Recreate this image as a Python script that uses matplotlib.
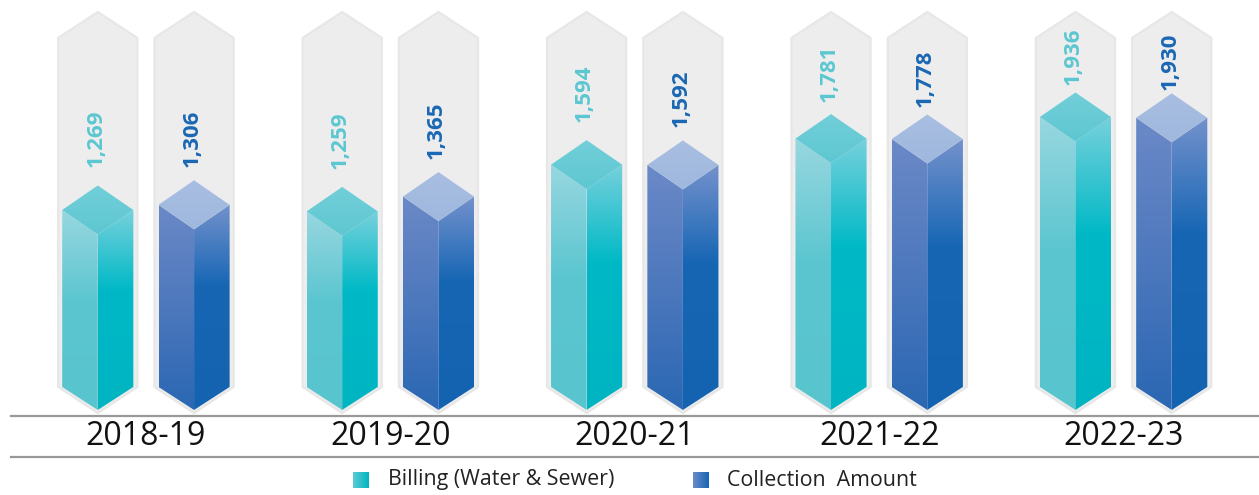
"""
Billing vs collection, drawn as 3D crystal bars
"""

import numpy as np
import matplotlib
matplotlib.use('Agg')
import matplotlib.pyplot as plt
from matplotlib.patches import Polygon
from matplotlib.colors import LinearSegmentedColormap

plt.rcParams['font.family'] = ['Open Sans', 'DejaVu Sans']

# data
years = ['2018-19', '2019-20', '2020-21', '2021-22', '2022-23']
billing = [1269, 1259, 1594, 1781, 1936]
collection = [1306, 1365, 1592, 1778, 1930]

# series styles: (top face, left face stops, right face stops, label colour)
STYLES = {
    'billing': {
        'top': [(0, '#72cfd9'), (1, '#5ec7d1')],
        'left': [(0, '#98d7e0'), (0.45, '#5cc6d0'), (1, '#57c4ce')],
        'right': [(0, '#76d1dc'), (0.4, '#00b9c6'), (1, '#00b4c2')],
        'label': '#5cc7d1',
        'legend': [(0, '#5ccbd4'), (1, '#00b5c2')],
    },
    'collection': {
        'top': [(0, '#a8bee2'), (1, '#a0b8de')],
        'left': [(0, '#6b89c7'), (0.5, '#4d78bd'), (1, '#2a67b3')],
        'right': [(0, '#7491cc'), (0.4, '#1666b4'), (1, '#1463b1')],
        'label': '#1a67b4',
        'legend': [(0, '#6c8ac8'), (1, '#1565b4')],
    },
}

PX = 0.1394           # pixels per value unit
HALF_W = 0.1455       # bar half width (group units)
OFFSET = 0.197        # bar offset from group centre
CAP_W = 0.162         # background capsule half width
D = 24.5 / PX         # half height of the top rhombus
TIP = 23 / PX         # depth of the bottom point


def grad_poly(ax, verts, stops, z):
    poly = Polygon(verts, closed=True, facecolor='none', edgecolor='none')
    ax.add_patch(poly)
    xs = [p[0] for p in verts]
    ys = [p[1] for p in verts]
    cmap = LinearSegmentedColormap.from_list('g', stops)
    arr = np.linspace(0, 1, 256).reshape(-1, 1)
    im = ax.imshow(arr, cmap=cmap, extent=(min(xs), max(xs), min(ys), max(ys)),
                   origin='upper', aspect='auto', interpolation='bilinear', zorder=z)
    im.set_clip_path(poly)


def draw_bar(ax, cx, v, st):
    # background capsule
    cap_top, cap_sh = 2689, 2503
    cap = Polygon([(cx - CAP_W, 0), (cx - CAP_W, cap_sh), (cx, cap_top),
                   (cx + CAP_W, cap_sh), (cx + CAP_W, 0), (cx, -187)],
                  closed=True, facecolor='#ededed', edgecolor='#e7e7e7',
                  linewidth=1.6, joinstyle='round', zorder=1)
    ax.add_patch(cap)
    left = [(cx - HALF_W, v), (cx, v - D), (cx, -TIP), (cx - HALF_W, 0)]
    right = [(cx, v - D), (cx + HALF_W, v), (cx + HALF_W, 0), (cx, -TIP)]
    top = [(cx - HALF_W, v), (cx, v + D), (cx + HALF_W, v), (cx, v - D)]
    grad_poly(ax, left, st['left'], 2)
    grad_poly(ax, right, st['right'], 2)
    grad_poly(ax, top, st['top'], 3)


fig = plt.figure(figsize=(12.59, 4.95), dpi=100)
ax = fig.add_axes([0, 0, 1, 1])

x = np.arange(len(years))
for i in x:
    for series, vals, sgn, gap0 in (('billing', billing, -1, 18), ('collection', collection, 1, 13)):
        v = vals[i]
        cx = i + sgn * OFFSET
        st = STYLES[series]
        draw_bar(ax, cx, v, st)
        gap = max(gap0 - max(0, v - 1600) * 0.03, 3) / PX
        ax.text(cx - 0.008, v + D + gap, f'{v:,}', rotation=90, ha='center', va='bottom',
                fontsize=16, fontweight='bold', color=st['label'], zorder=5)

# category labels and rules
for i, yr in zip(x, years):
    ax.text(i, -359, yr, ha='center', va='center', fontsize=23, color='#111111')
for yl in (-208, -502):
    ax.plot([-0.552, 4.6], [yl, yl], color='#999999', linewidth=1.6, zorder=4)

ax.set_xlim(-0.597, 4.554)
ax.set_ylim(-775, 2775)
ax.axis('off')

# legend with gradient squares
legend_items = [('billing', 'Billing (Water & Sewer)', 353, 388),
                ('collection', 'Collection  Amount', 693, 727)]
W, H = 1259, 495
for key, label, mx, tx in legend_items:
    lax = fig.add_axes([mx / W, 1 - 488 / H, 15 / W, 16 / H])
    cmap = LinearSegmentedColormap.from_list('lg', STYLES[key]['legend'])
    lax.imshow(np.linspace(0, 1, 64).reshape(1, -1), cmap=cmap, aspect='auto')
    lax.axis('off')
    fig.text(tx / W, 1 - 480 / H, label, ha='left', va='center', fontsize=15.4, color='#222222')

plt.savefig('out.png', dpi=100, facecolor='white')
plt.close()
